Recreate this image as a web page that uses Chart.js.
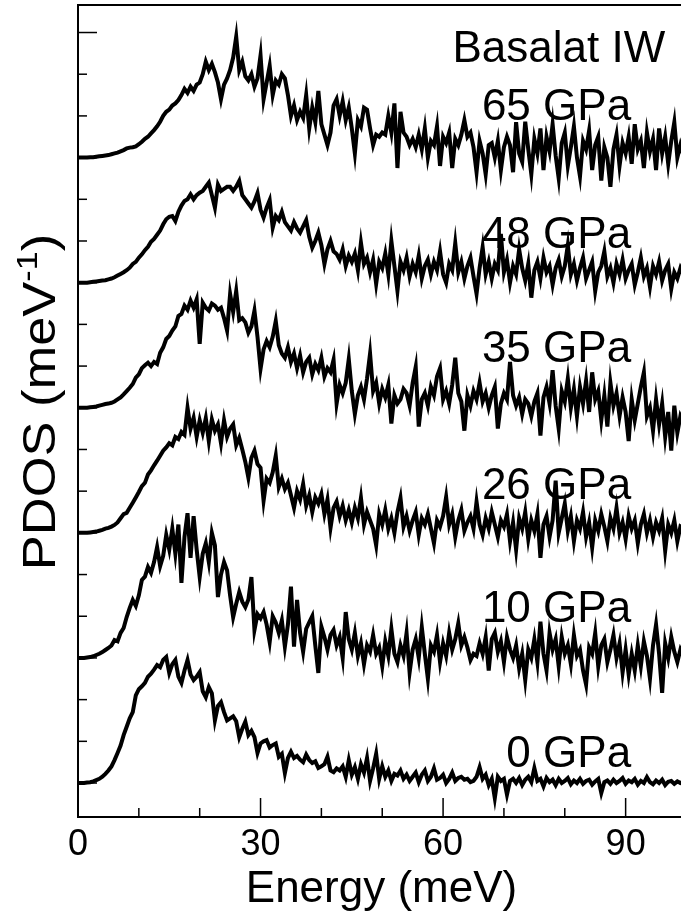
<!DOCTYPE html>
<html>
<head>
<meta charset="utf-8">
<script src="https://cdn.jsdelivr.net/npm/chart.js@4.4.1/dist/chart.umd.min.js"></script>
<style>
  body { margin: 0; background: #fff; }
  canvas { display: block; }
</style>
</head>
<body>
<canvas id="myChart" width="681" height="915"></canvas>
<script>
// energy grid step (meV), series sampled from 0 to 99.5
const energyStep = 0.5;

// PDOS, one array per pressure (before vertical offset)
const pdos0 = [0,0,0,0.01,0.02,0.04,0.07,0.1,0.15,0.22,
  0.3,0.4,0.55,0.72,0.9,1.15,1.35,1.55,1.7,2.1,
  2.25,2.32,2.4,2.55,2.62,2.72,2.83,2.78,2.95,3.02,
  2.64,2.85,2.95,2.55,2.4,2.7,2.95,2.6,2.47,2.55,
  2.66,2.2,2.06,2.3,2.15,1.5,1.85,1.94,1.7,1.5,
  1.55,1.6,1.48,1.1,1.3,1.47,1.15,1.25,1.1,0.72,
  0.95,1.0,1.03,0.85,0.91,0.95,0.63,0.7,0.24,0.6,
  0.75,0.6,0.65,0.56,0.5,0.68,0.55,0.48,0.52,0.36,
  0.4,0.45,0.63,0.3,0.26,0.35,0.3,0.4,0.15,0.55,
  0.2,0.38,0.1,0.45,0.25,0.6,0.05,0.35,0.7,0.1,
  0.4,0.15,0.3,0.05,0.22,0.18,0.3,0.1,0.2,0.05,
  0.15,0.25,0.02,0.2,0.3,0.05,0.15,0.35,0.08,0.12,
  0.2,0,0.1,0.25,0.05,0.12,0.15,0.08,0.1,0.02,
  0.05,0.15,0.38,0.1,0.2,-0.05,0.1,-0.36,0.15,0.05,
  0.1,-0.28,0.05,0.1,0,0.12,-0.05,0.08,0.15,0.02,
  0.36,0.05,0.1,-0.08,0.12,0.02,0.08,-0.05,0.1,0,
  0.05,0.12,-0.03,0.06,0,0.1,-0.02,0.05,0.08,-0.04,
  0.04,0.1,-0.24,0.02,0.06,-0.02,0.08,0,0.05,0.12,
  -0.02,0.06,0.02,0.1,-0.04,0.05,0,0.14,0.02,-0.03,
  0.06,0,0.08,-0.05,0.03,0.05,-0.02,0.04,0,0.02];

const pdos10 = [0,0,0,0.01,0.02,0.04,0.07,0.1,0.14,0.19,
  0.24,0.3,0.43,0.4,0.6,0.72,0.98,1.2,1.39,1.25,
  1.5,1.87,1.95,2.18,2.04,2.3,2.66,2.2,2.45,2.95,
  2.6,3.1,2.5,3.2,1.8,2.9,3.47,2.4,3.4,2.6,
  1.94,2.5,2.75,2.3,3.0,2.7,1.46,2.0,2.3,2.1,
  1.5,0.98,1.3,1.58,1.35,1.22,1.4,1.94,0.67,1.05,
  0.95,1.1,0.8,0.38,1.0,0.85,0.6,0.9,0.27,0.8,
  1.71,0.27,1.39,0.6,0.15,0.7,0.85,1.0,0.3,-0.36,
  0.75,0.5,0.2,0.55,0.67,0.3,0.5,0,1.1,0.45,
  0.2,0.6,0.05,0.35,-0.15,0.3,0.15,0.55,0.1,0.25,
  -0.2,0.4,0.05,0.7,0.1,-0.1,0.3,0.05,0.6,-0.35,
  0.2,0.45,0,0.74,0.1,-0.5,0.3,0.15,0.55,-0.1,
  0.35,0.05,0.6,0.2,0.45,0.83,0.3,0.5,0.25,-0.05,
  0.1,0.05,0.35,0.1,0.5,-0.3,0.45,0.6,0.15,0.4,
  -0.1,0.5,0.2,0,0.3,-0.25,0.1,-0.53,0.2,0,
  0.45,-0.1,0.87,0.1,-0.3,0.6,0.2,0.45,-0.2,0.5,
  0.1,0.3,-0.15,0.55,0.05,0.2,-0.3,-0.64,0.25,0.1,
  0.6,-0.2,0.3,0.45,-0.1,0.2,0.55,0,0.35,-0.35,
  0.2,-0.4,0.1,-0.3,0.3,-0.2,0.4,0.05,-0.5,0.3,
  0.8,0.1,-0.84,0.35,0,0.5,0.15,-0.1,0.2,0.05];

const pdos26 = [0,0,0,0,0.01,0.02,0.03,0.05,0.07,0.1,
  0.12,0.15,0.19,0.25,0.35,0.45,0.48,0.6,0.72,0.85,
  0.98,1.12,1.2,1.4,1.5,1.62,1.73,1.85,1.97,2.05,
  2.15,2.1,2.3,2.25,2.42,2.35,3.0,2.5,2.76,2.3,
  2.7,2.4,2.75,2.2,2.72,2.45,2.6,2.15,2.7,2.3,
  2.5,2.6,2.1,2.28,2.0,1.7,1.32,1.8,1.97,1.65,
  1.56,0.77,1.3,1.2,1.45,1.85,1.1,1.3,1.05,1.2,
  0.9,0.6,1.0,0.8,1.17,0.65,0.9,0.5,0.85,0.7,
  0.93,0.45,0.8,0.12,0.6,0.75,0.4,0.65,0.3,0.55,
  0.25,0.6,0.35,0.84,0.2,0.5,0.3,0.1,-0.3,0.45,
  0.2,0.55,0.1,0.35,0,0.5,0.84,0.15,0.4,0.05,
  0.3,0.5,-0.05,0.35,0.2,0.45,0.1,-0.25,0.3,0.15,
  0.4,0.86,0.2,0.45,-0.1,0.3,0.55,0.05,0.25,0.4,
  0.1,0.75,0.2,-0.05,0.35,0.1,0.5,0.2,-0.1,0.3,
  0.15,0.45,-0.2,0.25,-0.4,0.35,0.1,0.5,-0.15,0.3,
  0.05,0.45,-0.6,0.2,0.4,-0.1,0.3,1.25,0,0.35,
  0.7,0.05,0.4,-0.2,0.3,0.1,0.5,-0.1,0.25,-0.35,
  0.3,0.05,0.45,0.15,-0.2,0.35,0.1,0.6,0,0.25,
  -0.15,0.4,0.1,0.3,-0.25,0.2,0.45,0,0.3,-0.1,
  0.25,0.05,0.35,-0.43,0.2,0,0.3,-0.2,0.15,0.1];

const pdos35 = [0,0,0,0,0.01,0.02,0.03,0.05,0.07,0.09,
  0.1,0.12,0.15,0.2,0.25,0.32,0.4,0.48,0.57,0.72,
  0.8,0.95,1.02,1.08,1.0,1.1,1.05,1.32,1.45,1.65,
  1.72,1.85,1.95,2.2,2.25,2.45,2.35,2.57,2.4,2.6,
  1.53,2.52,2.4,2.33,2.5,2.45,2.35,2.4,2.15,1.85,
  2.73,2.3,2.8,2.1,2.15,2.05,1.8,1.95,2.33,1.7,
  0.93,1.4,1.6,1.45,1.7,2.08,1.5,1.3,1.2,1.45,
  1.1,1.3,0.95,1.25,0.85,1.1,1.2,0.8,1.05,0.9,
  1.2,0.75,0.95,0.85,1.15,0.1,0.55,0.35,0.6,1.17,
  0.4,-0.15,0.3,0.5,0.2,0.7,1.3,0.4,0.6,0.1,
  0.45,0.25,0.55,-0.38,0.3,0.1,0.2,0.45,0.35,0.05,
  0.6,0.98,-0.45,0.2,0.35,0.05,0.5,0.3,0.75,0.95,
  0.2,0.4,0.1,0.55,1.2,0.35,0.15,-0.55,0.3,0.05,
  0.4,0.2,0.6,0.15,0.35,0,0.3,0.5,-0.5,0.1,
  0.35,0.2,1.1,0.3,0.05,0.25,-0.15,0.2,0.1,-0.2,
  0.15,0.35,-0.67,0.25,0.5,0.1,0.9,0.05,-0.5,0.4,
  0.15,0.7,0,0.45,-0.2,0.5,0.1,0.65,-0.1,0.85,
  0.2,0.4,-0.3,0.3,-0.45,0.6,0.05,0.35,-0.2,0.25,
  -0.1,-0.8,0.2,-0.3,0.1,0.5,0.85,-0.2,0,-0.55,
  0.2,-0.4,0.1,-0.7,-0.1,-1.03,0.05,-0.6,-0.2,-0.35];

const pdos48 = [0,0,0,0,0.01,0.02,0.03,0.04,0.05,0.06,
  0.08,0.1,0.13,0.17,0.21,0.25,0.3,0.36,0.45,0.5,
  0.6,0.68,0.78,0.86,0.98,1.05,1.15,1.25,1.4,1.52,
  1.58,1.6,1.48,1.7,1.85,1.96,2.0,2.12,2.0,2.1,
  2.16,2.2,2.3,2.4,2.1,1.8,2.35,2.2,2.25,2.3,
  2.3,2.2,2.3,2.44,2.1,2.0,1.9,1.8,1.95,2.15,
  1.75,1.56,1.8,1.98,1.32,1.6,1.5,1.7,1.45,1.35,
  1.25,1.45,1.3,1.2,1.35,1.5,1.1,0.84,1.0,1.2,
  0.9,0.45,0.8,1.0,0.75,0.69,0.55,0.8,0.4,0.65,
  0.5,0.7,0.3,0.96,0.45,0.6,0.25,0.55,-0.03,0.5,
  0.35,0.7,0.2,1.0,0.4,-0.2,0.5,0.3,0.6,0.15,
  0.45,0.25,0.65,0.1,0.4,0.55,0.2,0.5,0.3,0.75,
  0.2,0,0.45,0.3,0.95,0.25,0.5,0.1,0.4,0.6,
  0.15,-0.27,0.35,0.85,0.2,0.5,0.1,0.45,0.3,1.17,
  0.25,0.55,0,0.4,0.2,0.8,0.35,0.05,0.45,-0.36,
  0.3,0.5,0.1,0.6,0.25,0.4,-0.05,0.35,0.55,0.15,
  0.4,0.9,0.2,0.45,0.05,0.35,0.6,0.1,0.3,0.5,
  -0.2,0.25,0.4,0.75,0.15,0.35,0,0.45,0.2,0.55,
  0.1,0.3,0.45,-0.05,0.25,0.6,0.15,0.35,-0.1,0.4,
  0.2,0.5,0.05,0.3,0.45,-0.15,0.25,0.1,0.35,0.2];

const pdos65 = [0,0,0,0,0.01,0.01,0.02,0.03,0.04,0.05,
  0.06,0.08,0.1,0.12,0.15,0.18,0.22,0.24,0.25,0.27,
  0.32,0.38,0.45,0.5,0.58,0.66,0.75,0.86,1.0,1.1,
  1.15,1.25,1.3,1.38,1.5,1.65,1.55,1.7,1.6,1.75,
  1.8,2.0,2.3,2.1,2.25,2.05,1.8,1.4,1.75,1.9,
  2.1,2.4,2.9,2.1,2.3,1.95,1.85,2.0,1.7,1.9,
  2.45,1.4,1.8,2.2,1.5,1.85,1.75,2.0,1.9,1.5,
  1.0,1.25,0.9,1.1,0.95,1.5,0.7,1.2,0.85,1.6,
  0.8,0.55,0.3,0.6,1.25,1.4,1.0,1.35,0.9,1.2,
  0.7,0.1,0.9,0.75,1.2,1.15,0.7,0.3,0.55,0.5,
  0.6,0.55,1.0,0.6,1.3,-0.25,1.1,0.6,0.5,0.3,
  0.45,0.25,0.55,0.2,0.7,0,0.4,0.3,0.75,-0.2,
  0.5,0.35,0.6,-0.25,0.45,0.3,0.55,0.9,0.5,0.6,
  0.25,-0.35,0.4,0.1,-0.4,0.3,0.35,0,0.4,-0.3,
  0.25,0.5,0.3,-0.35,0.85,0.1,-0.1,0.86,0.2,-0.4,
  0.45,0.1,0.7,-0.3,0.5,0.15,0.8,0.05,-0.5,0.35,
  0.6,-0.2,0.25,0.75,0,-0.45,0.4,0.2,0.65,-0.3,
  0.3,0.5,-0.55,0.25,0,-0.7,0.2,0.55,-0.2,0.35,
  0.1,0.5,-0.15,0.8,0.2,0.4,-0.25,0.6,0.15,0.45,
  -0.3,0.7,0.1,0.5,-0.15,0.4,0.85,0,0.3,0.05];

const pressures = ['0 GPa', '10 GPa', '26 GPa', '35 GPa', '48 GPa', '65 GPa'];
const seriesList = [pdos0, pdos10, pdos26, pdos35, pdos48, pdos65];
const offsets = [0, 3, 6, 9, 12, 15];
const xTicks = [0, 30, 60, 90];

// where the pressure labels sit (data coords, right aligned)
const labelX = 90.9;
const labelY = [0.38, 3.87, 6.82, 10.1, 12.83, 15.9];

const FONT = '"Liberation Sans", Arial, Helvetica, sans-serif';

var datasets = seriesList.map(function(arr, k) {
    return {
        label: pressures[k],
        data: arr.map(function(v, i) { return {x: i * energyStep, y: v + offsets[k]}; }),
        borderColor: '#000',
        borderWidth: 4,
        pointRadius: 0,
        tension: 0,
        fill: false,
    };
});

var decor = {
    id: 'decor',
    afterDraw(chart) {
        const ctx = chart.ctx;
        const xs = chart.scales.x, ys = chart.scales.y;
        const a = chart.chartArea;
        ctx.save();
        ctx.strokeStyle = '#000';
        ctx.lineWidth = 2;
        // top frame line
        ctx.beginPath();
        ctx.moveTo(a.left, a.top);
        ctx.lineTo(a.right, a.top);
        ctx.stroke();
        // inward ticks on x
        ctx.lineWidth = 1.5;
        for (let e = 0; e <= 100; e += 10) {
            const px = xs.getPixelForValue(e);
            if (px > a.right) continue;
            const len = (e % 30 === 0) ? 19 : 9;
            ctx.beginPath();
            ctx.moveTo(px, a.bottom);
            ctx.lineTo(px, a.bottom - len);
            ctx.stroke();
        }
        // inward ticks on y
        for (let v = 0; v <= 18; v++) {
            const py = ys.getPixelForValue(v);
            const len = (v % 3 === 0) ? 19 : 9;
            ctx.beginPath();
            ctx.moveTo(a.left, py);
            ctx.lineTo(a.left + len, py);
            ctx.stroke();
        }
        ctx.fillStyle = '#000';
        // pressure labels
        ctx.font = '44px ' + FONT;
        ctx.textAlign = 'right';
        ctx.textBaseline = 'alphabetic';
        pressures.forEach(function(t, k) {
            ctx.fillText(t, xs.getPixelForValue(labelX), ys.getPixelForValue(labelY[k]));
        });
        ctx.fillText('Basalat IW', xs.getPixelForValue(96.5), ys.getPixelForValue(17.29));
        // x title
        ctx.textAlign = 'center';
        ctx.fillText('Energy (meV)', (a.left + a.right) / 2 + 2, 902);
        // y title with superscript, stretched a bit along its length
        ctx.translate(55, 402);
        ctx.rotate(-Math.PI / 2);
        ctx.scale(1.14, 1);
        ctx.textAlign = 'left';
        const big = '46px ' + FONT, small = '30px ' + FONT;
        ctx.font = big;
        const w1 = ctx.measureText('PDOS (meV').width;
        const w3 = ctx.measureText(')').width;
        ctx.font = small;
        const w2 = ctx.measureText('-1').width;
        let x0 = -(w1 + w2 + w3) / 2;
        ctx.font = big;
        ctx.fillText('PDOS (meV', x0, 0);
        ctx.font = small;
        ctx.fillText('-1', x0 + w1, -18);
        ctx.font = big;
        ctx.fillText(')', x0 + w1 + w2, 0);
        ctx.restore();
    }
};

var ctx = document.getElementById('myChart').getContext('2d');
var myChart = new Chart(ctx, {
    type: 'line',
    data: { datasets: datasets },
    options: {
        responsive: false,
        animation: false,
        layout: { padding: { top: 5, right: 0, left: 0, bottom: 0 } },
        plugins: { legend: { display: false }, tooltip: { enabled: false } },
        scales: {
            x: {
                type: 'linear',
                min: 0,
                max: 99.1,
                afterFit: function(scale) { scale.height = 98; },
                afterBuildTicks: function(scale) {
                    scale.ticks = xTicks.map(function(v) { return {value: v}; });
                },
                grid: { display: false, drawTicks: false },
                border: { display: true, color: '#000', width: 2 },
                ticks: {
                    color: '#000',
                    font: { family: FONT, size: 36 },
                    padding: 6,
                    maxRotation: 0,
                },
            },
            y: {
                type: 'linear',
                min: -0.815,
                max: 18.66,
                afterFit: function(scale) { scale.width = 78; },
                grid: { display: false, drawTicks: false },
                border: { display: true, color: '#000', width: 2 },
                ticks: { display: false },
            },
        },
    },
    plugins: [decor],
});
</script>
</body>
</html>
